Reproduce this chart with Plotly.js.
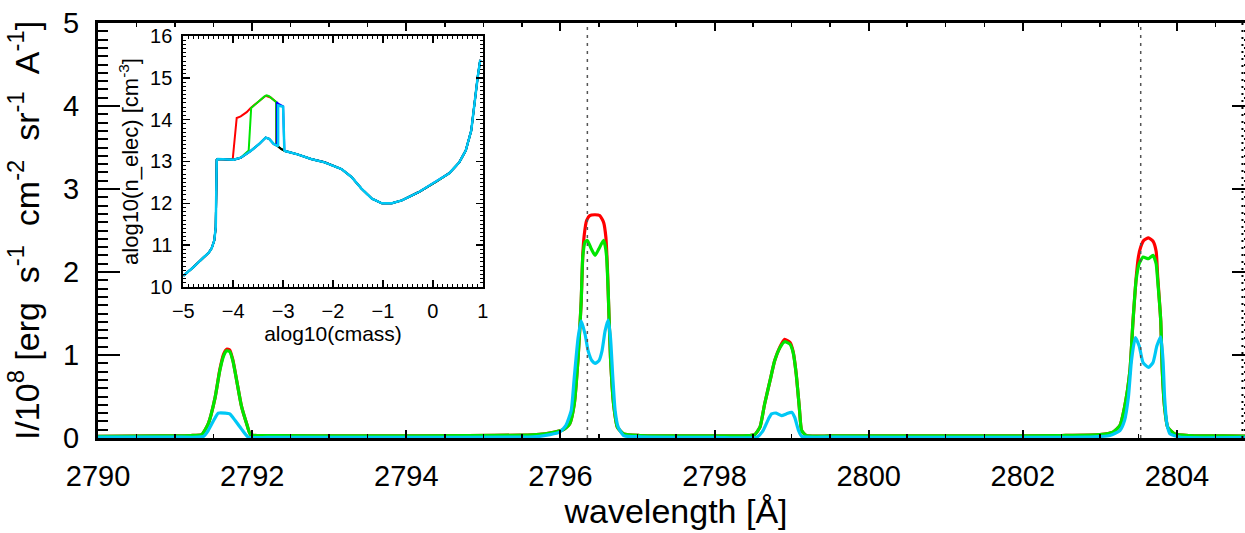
<!DOCTYPE html>
<html>
<head>
<meta charset="utf-8">
<script src="https://cdn.plot.ly/plotly-3.0.1.min.js"></script>
<style>
html, body { margin:0; padding:0; overflow:hidden; background:#fff; }
#chart { width:1256px; height:533px; }
</style>
</head>
<body>
<div id="chart"></div>
<script>
// ---------- main spectrum (wavelength in Angstrom, intensity / 1e8) ----------
const redWl = [2790.0,2790.8,2791.2,2791.345,2791.43,2791.52,2791.58,2791.63,2791.67,2791.71,
  2791.75,2791.80,2791.86,2791.93,2791.98,2792.3,2793.5,2794.8,2795.5,2795.73,
  2795.86,2796.04,2796.12,2796.18,2796.23,2796.27,2796.29,2796.31,2796.34,2796.38,
  2796.45,2796.51,2796.56,2796.59,2796.61,2796.62,2796.65,2796.69,2796.74,2796.82,
  2797.03,2797.6,2798.2,2798.45,2798.52,2798.59,2798.65,2798.72,2798.78,2798.85,
  2798.91,2798.98,2799.02,2799.06,2799.10,2799.13,2799.19,2799.5,2800.5,2801.5,
  2802.5,2803.0,2803.17,2803.26,2803.32,2803.39,2803.43,2803.47,2803.50,2803.53,
  2803.57,2803.63,2803.69,2803.73,2803.75,2803.79,2803.81,2803.84,2803.88,2803.97,
  2804.16,2804.6,2805.0];
const redI = [0.02,0.025,0.03,0.04,0.17,0.49,0.82,1.01,1.07,1.06,
  0.94,0.69,0.39,0.17,0.04,0.03,0.025,0.03,0.035,0.045,
  0.06,0.10,0.17,0.41,0.97,1.65,2.20,2.45,2.62,2.68,
  2.69,2.68,2.60,2.42,2.05,1.77,0.97,0.41,0.13,0.05,
  0.03,0.025,0.025,0.03,0.04,0.13,0.41,0.69,0.93,1.10,
  1.19,1.15,1.04,0.77,0.37,0.09,0.03,0.025,0.025,0.025,
  0.03,0.04,0.07,0.15,0.37,0.81,1.41,1.92,2.18,2.30,
  2.38,2.41,2.37,2.25,1.95,1.41,0.81,0.37,0.13,0.05,
  0.03,0.025,0.02];

const greenWl = [2790.0,2790.8,2791.2,2791.345,2791.43,2791.52,2791.58,2791.63,2791.67,2791.71,
  2791.75,2791.80,2791.86,2791.93,2791.98,2792.3,2793.5,2794.8,2795.5,2795.73,
  2795.86,2796.04,2796.12,2796.18,2796.23,2796.27,2796.29,2796.32,2796.35,2796.40,
  2796.45,2796.50,2796.56,2796.58,2796.60,2796.62,2796.65,2796.69,2796.74,2796.82,
  2797.03,2797.6,2798.2,2798.45,2798.52,2798.59,2798.65,2798.72,2798.78,2798.85,
  2798.91,2798.98,2799.02,2799.06,2799.10,2799.13,2799.19,2799.5,2800.5,2801.5,
  2802.5,2803.0,2803.17,2803.26,2803.32,2803.39,2803.43,2803.47,2803.51,2803.56,
  2803.63,2803.69,2803.73,2803.75,2803.79,2803.81,2803.84,2803.88,2803.97,2804.16,
  2804.6,2805.0];
const greenI = [0.02,0.025,0.03,0.04,0.17,0.49,0.81,0.99,1.05,1.04,
  0.93,0.69,0.39,0.17,0.04,0.03,0.025,0.03,0.035,0.045,
  0.06,0.10,0.17,0.41,0.97,1.65,2.18,2.36,2.38,2.28,
  2.20,2.28,2.38,2.32,2.18,1.77,0.97,0.41,0.13,0.05,
  0.03,0.025,0.025,0.03,0.04,0.13,0.41,0.69,0.93,1.09,
  1.16,1.13,1.03,0.77,0.37,0.09,0.03,0.025,0.025,0.025,
  0.03,0.04,0.07,0.15,0.37,0.81,1.41,1.90,2.10,2.18,
  2.16,2.20,2.10,1.90,1.41,0.81,0.37,0.13,0.05,0.03,
  0.025,0.02];

const cyanWl = [2790.0,2791.0,2791.3,2791.37,2791.43,2791.50,2791.56,2791.65,2791.71,2791.78,
  2791.86,2791.95,2792.2,2794.0,2795.5,2795.73,2795.99,2796.07,2796.14,2796.18,
  2796.23,2796.27,2796.32,2796.36,2796.41,2796.45,2796.50,2796.54,2796.58,2796.62,
  2796.65,2796.68,2796.71,2796.75,2796.82,2797.03,2798.0,2798.55,2798.63,2798.70,
  2798.74,2798.80,2798.87,2798.93,2799.00,2799.04,2799.09,2799.13,2799.5,2801.0,
  2802.8,2803.13,2803.26,2803.32,2803.37,2803.41,2803.46,2803.51,2803.56,2803.63,
  2803.69,2803.74,2803.79,2803.82,2803.84,2803.87,2803.91,2804.04,2805.0];
const cyanI = [0.01,0.01,0.01,0.02,0.09,0.21,0.30,0.30,0.29,0.21,
  0.11,0.01,0.008,0.008,0.01,0.02,0.07,0.15,0.33,0.73,
  1.21,1.41,1.25,1.05,0.93,0.90,0.93,1.05,1.29,1.42,
  1.21,0.73,0.33,0.13,0.03,0.015,0.008,0.01,0.09,0.23,
  0.29,0.30,0.27,0.29,0.31,0.25,0.09,0.02,0.01,0.008,
  0.01,0.03,0.09,0.21,0.49,0.93,1.21,1.11,0.91,0.85,
  0.91,1.11,1.22,0.93,0.49,0.17,0.05,0.01,0.008];

// Mg II k and h line centres (dotted markers)
const lineCentres = [2796.35, 2803.53];
const edgeLine = [2804.85];

// ---------- inset: electron density vs column mass ----------
const lowCmass = [-5.0,-4.80,-4.60,-4.49,-4.43,-4.38,-4.35,-4.34,-4.335,-4.33,
  -4.31,-4.12,-3.99,-3.85,-3.65,-3.48,-3.35,-3.28,-3.19,-3.11,
  -3.04,-2.96,-2.71,-2.44,-2.17,-1.83,-1.63,-1.43,-1.22,-1.02,
  -0.82,-0.62,-0.28,0.06,0.33,0.53,0.66,0.77,0.83,0.90,0.95];
const lowNe = [10.27,10.47,10.70,10.82,10.93,11.11,11.43,11.91,12.55,13.04,
  13.06,13.04,13.04,13.09,13.25,13.42,13.57,13.54,13.42,13.37,
  13.30,13.25,13.17,13.06,12.98,12.82,12.63,12.35,12.11,12.00,
  12.00,12.07,12.27,12.51,12.72,12.98,13.26,13.74,14.38,15.02,15.43];
// high-density excursions of each run
const redExcX = [-4.01,-3.93,-3.85,-3.73,-3.65,-3.55,-3.45,-3.35,-3.25,-3.19,-3.14,-3.14];
const redExcY = [13.05,14.04,14.08,14.18,14.28,14.38,14.47,14.57,14.53,14.46,14.42,13.40];
const greenExcX = [-3.69,-3.64,-3.55,-3.45,-3.38,-3.33,-3.28,-3.22,-3.17,-3.14,-3.135];
const greenExcY = [13.26,14.28,14.38,14.47,14.55,14.58,14.56,14.50,14.44,14.42,13.40];
const blueExcX = [-3.125,-3.125,-3.10,-3.00,-2.975];
const blueExcY = [13.40,14.42,14.38,14.32,13.27];
const cyanExcX = [-3.10,-3.10,-3.00,-2.975];
const cyanExcY = [13.38,14.34,14.31,13.27];

function withExcursion(bx, by, ex, ey) {
  const xs = [], ys = [];
  const a = ex[0], b = ex[ex.length - 1];
  for (let i = 0; i < bx.length; i++) if (bx[i] < a) { xs.push(bx[i]); ys.push(by[i]); }
  for (let i = 0; i < ex.length; i++) { xs.push(ex[i]); ys.push(ey[i]); }
  for (let i = 0; i < bx.length; i++) if (bx[i] > b) { xs.push(bx[i]); ys.push(by[i]); }
  return [xs, ys];
}

const RED = '#ff0000', GREEN = '#00e600', BLUE = '#0000ff', CYAN = '#00c8f5', BLACK = '#000000';
const FONT = 'Liberation Sans, Arial, sans-serif';

const traces = [];
function mainLine(x, y, c, w) {
  traces.push({x: x, y: y, type: 'scatter', mode: 'lines',
    line: {color: c, width: w, shape: 'spline', smoothing: 0.5}, xaxis: 'x', yaxis: 'y', hoverinfo: 'skip'});
}
mainLine(redWl, redI, RED, 3.2);
mainLine(greenWl, greenI, GREEN, 3.2);
mainLine(cyanWl, cyanI, CYAN, 3.2);

function insetLine(xy, c, w) {
  traces.push({x: xy[0], y: xy[1], type: 'scatter', mode: 'lines', line: {color: c, width: w}, xaxis: 'x2', yaxis: 'y2', hoverinfo: 'skip'});
}
insetLine(withExcursion(lowCmass, lowNe, redExcX, redExcY), RED, 2);
insetLine(withExcursion(lowCmass, lowNe, greenExcX, greenExcY), GREEN, 2);
insetLine(withExcursion(lowCmass, lowNe, blueExcX, blueExcY), BLUE, 2);
insetLine([lowCmass, lowNe], BLACK, 2);
insetLine(withExcursion(lowCmass, lowNe, cyanExcX, cyanExcY), CYAN, 2.5);

const shapes = [];
lineCentres.forEach(v => shapes.push({type: 'line', xref: 'x', yref: 'paper', x0: v, x1: v, y0: 0, y1: 1,
  line: {color: '#555', width: 1.5, dash: '3px,5px'}}));
edgeLine.forEach(v => shapes.push({type: 'line', xref: 'x', yref: 'paper', x0: v, x1: v, y0: 0, y1: 1,
  line: {color: '#000', width: 2, dash: '2px,5px'}}));

const layout = {
  width: 1256, height: 533,
  margin: {l: 98, r: 2, t: 23, b: 95},
  paper_bgcolor: '#fff', plot_bgcolor: '#fff',
  showlegend: false,
  font: {family: FONT, color: '#000'},
  xaxis: {
    range: [2790, 2805], tick0: 2790, dtick: 2,
    ticks: 'inside', ticklen: 8, tickwidth: 2, tickcolor: '#000',
    showline: true, linewidth: 3, linecolor: '#000', mirror: 'ticks',
    showgrid: false, zeroline: false,
    minor: {dtick: 0.5, ticks: 'inside', ticklen: 4, tickwidth: 1.5, tickcolor: '#000', showgrid: false},
    tickfont: {size: 29, family: FONT}, ticklabelstandoff: 10,
    title: {text: 'wavelength [Å]', font: {size: 34, family: FONT}, standoff: 8},
    automargin: false
  },
  yaxis: {
    range: [0, 5], tick0: 0, dtick: 1,
    ticks: 'inside', ticklen: 22, tickwidth: 2, tickcolor: '#000',
    showline: true, linewidth: 3, linecolor: '#000', mirror: 'ticks',
    showgrid: false, zeroline: false,
    minor: {dtick: 0.1, ticks: 'inside', ticklen: 10, tickwidth: 2, tickcolor: '#000', showgrid: false},
    tickfont: {size: 29, family: FONT}, ticklabelstandoff: 10,
    title: {text: 'I/10<sup>8</sup> [erg  s<sup>-1</sup>  cm<sup>-2</sup>  sr<sup>-1</sup>  A<sup>-1</sup>]', font: {size: 34, family: FONT}, standoff: 14},
    automargin: false
  },
  xaxis2: {
    domain: [0.0738, 0.3328], anchor: 'y2', range: [-5, 1], dtick: 1, tick0: -5,
    ticks: 'inside', ticklen: 7, tickwidth: 1.5, tickcolor: '#000',
    showline: true, linewidth: 2, linecolor: '#000', mirror: 'ticks',
    showgrid: false, zeroline: false,
    minor: {dtick: 0.1, ticks: 'inside', ticklen: 3, tickwidth: 1, tickcolor: '#000', showgrid: false},
    tickfont: {size: 20, family: FONT}, ticklabelstandoff: 5,
    title: {text: 'alog10(cmass)', font: {size: 21, family: FONT}, standoff: 3},
    automargin: false
  },
  yaxis2: {
    domain: [0.3639, 0.9687], anchor: 'x2', range: [10, 16], dtick: 1, tick0: 10,
    ticks: 'inside', ticklen: 7, tickwidth: 1.5, tickcolor: '#000',
    showline: true, linewidth: 2, linecolor: '#000', mirror: 'ticks',
    showgrid: false, zeroline: false,
    minor: {dtick: 0.1, ticks: 'inside', ticklen: 3, tickwidth: 1, tickcolor: '#000', showgrid: false},
    tickfont: {size: 20, family: FONT}, ticklabelstandoff: 5,
    title: {text: 'alog10(n_elec) [cm<sup>-3</sup>]', font: {size: 22, family: FONT}, standoff: 5},
    automargin: false
  },
  shapes: shapes
};

Plotly.newPlot('chart', traces, layout, {displayModeBar: false, staticPlot: true});
</script>
</body>
</html>
